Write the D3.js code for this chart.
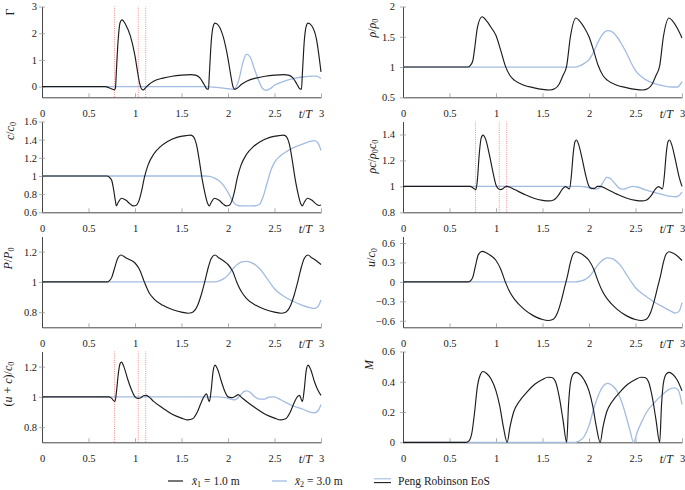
<!DOCTYPE html>
<html><head><meta charset="utf-8">
<script src="https://cdn.jsdelivr.net/npm/d3@7"></script>
<style>
body{margin:0;background:#fff}
svg{display:block}
svg text{font-family:"Liberation Serif","DejaVu Serif",serif !important;fill:#1a1a1a}
</style>
</head><body>
<svg id="c" width="685" height="490"></svg>
<script>
// ---------- data (t/T, value) ----------
const tTicks=[0,0.5,1,1.5,2,2.5,3];
const redLines=[0.78,1.035,1.115];

const gammaBlack=[[0,0],[0.68,0],[0.72,-0.04],[0.76,-0.1],[0.78,-0.12],[0.79,-0.05],[0.8,0.6],[0.82,1.8],[0.84,2.4],[0.86,2.5],[0.9,2.32],[0.95,1.9],[1.0,1.15],[1.03,0.5],[1.05,0.12],[1.07,-0.08],[1.09,-0.12],[1.11,-0.06],[1.15,0.08],[1.2,0.2],[1.3,0.32],[1.4,0.39],[1.5,0.43],[1.6,0.45],[1.65,0.43],[1.7,0.32],[1.74,0.1],[1.77,-0.08],[1.79,-0.1],[1.8,0.5],[1.82,1.7],[1.84,2.25],[1.86,2.38],[1.9,2.28],[1.95,1.85],[2.0,1.05],[2.03,0.42],[2.05,0.05],[2.07,-0.1],[2.09,-0.08],[2.15,0.1],[2.2,0.2],[2.3,0.32],[2.4,0.39],[2.5,0.43],[2.6,0.45],[2.65,0.43],[2.7,0.32],[2.74,0.1],[2.77,-0.08],[2.79,-0.1],[2.8,0.5],[2.82,1.7],[2.84,2.25],[2.86,2.38],[2.9,2.28],[2.95,1.8],[3.0,0.55]];
const gammaBlue=[[0,0],[1.7,0],[1.8,-0.01],[1.9,-0.04],[2.0,-0.08],[2.05,-0.1],[2.08,-0.05],[2.12,0.3],[2.16,0.9],[2.2,1.22],[2.24,1.1],[2.28,0.7],[2.33,0.22],[2.37,-0.06],[2.41,-0.14],[2.45,-0.08],[2.5,0.05],[2.6,0.2],[2.7,0.3],[2.8,0.36],[2.9,0.39],[2.95,0.39],[3.0,0.3]];

const rhoBlack=[[0,1],[0.7,1],[0.72,1.02],[0.75,1.1],[0.77,1.3],[0.8,1.65],[0.85,1.83],[0.9,1.76],[0.95,1.65],[1.0,1.52],[1.05,1.28],[1.1,1.02],[1.15,0.86],[1.2,0.78],[1.3,0.7],[1.4,0.66],[1.5,0.63],[1.58,0.62],[1.63,0.64],[1.68,0.72],[1.72,0.86],[1.76,1.02],[1.8,1.5],[1.86,1.81],[1.9,1.76],[1.95,1.65],[2.0,1.5],[2.05,1.27],[2.1,1.02],[2.15,0.86],[2.2,0.78],[2.3,0.7],[2.4,0.66],[2.5,0.63],[2.58,0.62],[2.63,0.64],[2.68,0.72],[2.72,0.86],[2.76,1.02],[2.8,1.5],[2.86,1.81],[2.9,1.76],[2.95,1.64],[3.0,1.48]];
const rhoBlue=[[0,1],[1.85,1],[1.9,1.02],[1.95,1.06],[2.0,1.12],[2.05,1.25],[2.1,1.42],[2.15,1.55],[2.2,1.6],[2.25,1.58],[2.3,1.5],[2.35,1.38],[2.4,1.24],[2.45,1.08],[2.5,0.94],[2.6,0.8],[2.7,0.73],[2.8,0.69],[2.9,0.67],[2.95,0.67],[3.0,0.76]];

const cBlack=[[0,1],[0.7,1],[0.72,0.99],[0.75,0.95],[0.77,0.85],[0.79,0.72],[0.8,0.67],[0.82,0.71],[0.855,0.755],[0.9,0.735],[0.95,0.69],[0.98,0.67],[1.01,0.675],[1.04,0.72],[1.07,0.83],[1.1,0.98],[1.14,1.12],[1.2,1.24],[1.27,1.32],[1.35,1.38],[1.45,1.425],[1.55,1.445],[1.6,1.45],[1.63,1.43],[1.66,1.35],[1.69,1.18],[1.72,0.98],[1.75,0.82],[1.78,0.7],[1.8,0.67],[1.82,0.71],[1.855,0.755],[1.9,0.735],[1.95,0.69],[1.98,0.67],[2.01,0.675],[2.04,0.72],[2.07,0.83],[2.1,0.98],[2.14,1.12],[2.2,1.24],[2.27,1.32],[2.35,1.38],[2.45,1.425],[2.55,1.445],[2.6,1.45],[2.63,1.43],[2.66,1.35],[2.69,1.18],[2.72,0.98],[2.75,0.82],[2.78,0.7],[2.8,0.67],[2.82,0.71],[2.855,0.755],[2.9,0.735],[2.95,0.69],[2.98,0.675],[3.0,0.68]];
const cBlue=[[0,1],[1.75,1],[1.8,0.995],[1.85,0.98],[1.9,0.95],[1.95,0.9],[2.0,0.82],[2.04,0.74],[2.08,0.69],[2.12,0.672],[2.2,0.67],[2.3,0.672],[2.34,0.69],[2.38,0.78],[2.42,0.92],[2.46,1.06],[2.5,1.15],[2.55,1.21],[2.6,1.25],[2.7,1.31],[2.8,1.35],[2.88,1.38],[2.93,1.39],[2.97,1.36],[3.0,1.28]];

const rhocBlack=[[0,1],[0.72,1],[0.75,0.99],[0.77,0.98],[0.785,0.975],[0.8,1.05],[0.82,1.25],[0.84,1.37],[0.86,1.395],[0.89,1.36],[0.93,1.24],[0.97,1.1],[1.0,1.01],[1.02,0.985],[1.05,0.975],[1.08,0.985],[1.11,1.0],[1.13,0.998],[1.2,0.975],[1.3,0.94],[1.4,0.91],[1.5,0.892],[1.57,0.888],[1.62,0.895],[1.67,0.93],[1.71,0.975],[1.745,0.998],[1.77,0.99],[1.79,0.98],[1.81,1.08],[1.83,1.25],[1.85,1.345],[1.865,1.357],[1.89,1.32],[1.93,1.2],[1.97,1.07],[2.0,1.0],[2.03,0.985],[2.06,0.985],[2.09,1.0],[2.12,1.0],[2.2,0.975],[2.3,0.94],[2.4,0.91],[2.5,0.892],[2.57,0.888],[2.62,0.895],[2.67,0.93],[2.71,0.975],[2.745,0.998],[2.77,0.99],[2.79,0.98],[2.81,1.08],[2.83,1.25],[2.85,1.345],[2.865,1.357],[2.89,1.32],[2.93,1.2],[2.97,1.07],[3.0,1.0]];
const rhocBlue=[[0,1],[1.9,1],[1.97,0.995],[2.03,0.98],[2.08,0.978],[2.12,0.995],[2.15,1.03],[2.19,1.07],[2.23,1.06],[2.28,1.02],[2.33,0.985],[2.37,0.978],[2.42,0.99],[2.47,1.0],[2.52,0.995],[2.6,0.975],[2.7,0.953],[2.8,0.935],[2.88,0.922],[2.94,0.92],[2.97,0.93],[3.0,0.955]];

const pBlack=[[0,1],[0.7,1],[0.72,1.005],[0.75,1.03],[0.78,1.09],[0.81,1.15],[0.85,1.178],[0.9,1.16],[0.95,1.145],[1.0,1.125],[1.05,1.08],[1.1,1.0],[1.15,0.93],[1.2,0.89],[1.3,0.845],[1.4,0.818],[1.5,0.8],[1.57,0.793],[1.62,0.8],[1.67,0.84],[1.71,0.91],[1.75,1.0],[1.79,1.1],[1.82,1.155],[1.86,1.178],[1.9,1.16],[1.95,1.14],[2.0,1.115],[2.05,1.07],[2.1,0.99],[2.15,0.93],[2.2,0.89],[2.3,0.845],[2.4,0.818],[2.5,0.8],[2.57,0.793],[2.62,0.8],[2.67,0.84],[2.71,0.91],[2.75,1.0],[2.79,1.1],[2.82,1.155],[2.86,1.178],[2.9,1.16],[2.95,1.14],[3.0,1.115]];
const pBlue=[[0,1],[1.85,1],[1.9,1.005],[1.95,1.02],[2.0,1.045],[2.05,1.085],[2.1,1.115],[2.15,1.132],[2.2,1.135],[2.25,1.128],[2.3,1.11],[2.35,1.08],[2.4,1.04],[2.45,0.995],[2.5,0.955],[2.6,0.905],[2.7,0.872],[2.8,0.845],[2.88,0.83],[2.93,0.825],[2.97,0.84],[3.0,0.88]];

const uBlack=[[0,0],[0.7,0],[0.72,0.01],[0.75,0.07],[0.78,0.25],[0.81,0.42],[0.85,0.47],[0.9,0.445],[0.95,0.4],[1.0,0.33],[1.05,0.2],[1.1,0.0],[1.15,-0.16],[1.2,-0.27],[1.3,-0.42],[1.4,-0.52],[1.5,-0.58],[1.56,-0.595],[1.61,-0.58],[1.66,-0.48],[1.7,-0.3],[1.74,-0.07],[1.77,0.1],[1.8,0.3],[1.83,0.43],[1.86,0.465],[1.9,0.445],[1.95,0.4],[2.0,0.33],[2.05,0.2],[2.1,0.0],[2.15,-0.16],[2.2,-0.27],[2.3,-0.42],[2.4,-0.52],[2.5,-0.58],[2.56,-0.595],[2.61,-0.58],[2.66,-0.48],[2.7,-0.3],[2.74,-0.07],[2.77,0.1],[2.8,0.3],[2.83,0.43],[2.86,0.465],[2.9,0.445],[2.95,0.4],[3.0,0.33]];
const uBlue=[[0,0],[1.85,0],[1.9,0.01],[1.95,0.03],[2.0,0.08],[2.05,0.17],[2.1,0.27],[2.15,0.34],[2.2,0.37],[2.25,0.36],[2.3,0.31],[2.35,0.23],[2.4,0.12],[2.45,0.01],[2.5,-0.09],[2.6,-0.21],[2.7,-0.31],[2.8,-0.39],[2.88,-0.45],[2.93,-0.48],[2.97,-0.45],[3.0,-0.32]];

const upcBlack=[[0,1],[0.72,1],[0.75,0.99],[0.77,0.975],[0.785,0.97],[0.8,1.03],[0.82,1.15],[0.84,1.22],[0.855,1.23],[0.88,1.2],[0.92,1.12],[0.96,1.05],[1.0,1.0],[1.03,0.99],[1.06,0.993],[1.09,1.008],[1.12,1.01],[1.15,1.0],[1.2,0.97],[1.3,0.925],[1.4,0.885],[1.5,0.86],[1.57,0.848],[1.62,0.855],[1.67,0.9],[1.71,0.96],[1.745,1.005],[1.77,1.02],[1.79,0.98],[1.8,0.97],[1.82,1.05],[1.84,1.17],[1.86,1.21],[1.89,1.18],[1.93,1.1],[1.97,1.03],[2.0,1.0],[2.04,0.995],[2.08,1.005],[2.11,1.015],[2.14,1.0],[2.2,0.97],[2.3,0.925],[2.4,0.885],[2.5,0.86],[2.57,0.848],[2.62,0.855],[2.67,0.9],[2.71,0.96],[2.745,1.0],[2.77,1.01],[2.79,0.98],[2.8,0.97],[2.82,1.05],[2.84,1.17],[2.86,1.21],[2.89,1.18],[2.93,1.1],[2.97,1.04],[3.0,1.01]];
const upcBlue=[[0,1],[1.9,1],[1.97,0.995],[2.03,0.985],[2.07,0.98],[2.1,0.99],[2.13,1.01],[2.17,1.035],[2.2,1.04],[2.24,1.03],[2.29,1.0],[2.34,0.985],[2.39,0.985],[2.44,0.998],[2.49,1.0],[2.54,0.99],[2.6,0.97],[2.7,0.94],[2.8,0.92],[2.88,0.9],[2.93,0.895],[2.97,0.91],[3.0,0.95]];

const mBlack=[[0,0],[0.68,0],[0.71,0.01],[0.74,0.06],[0.77,0.2],[0.8,0.37],[0.83,0.445],[0.86,0.468],[0.9,0.455],[0.95,0.415],[1.0,0.34],[1.04,0.24],[1.08,0.1],[1.12,0.0],[1.15,0.1],[1.19,0.2],[1.25,0.27],[1.33,0.33],[1.42,0.385],[1.5,0.415],[1.56,0.43],[1.6,0.428],[1.64,0.4],[1.68,0.3],[1.72,0.15],[1.76,0.0],[1.78,0.25],[1.8,0.39],[1.83,0.45],[1.86,0.462],[1.9,0.45],[1.95,0.41],[2.0,0.34],[2.04,0.24],[2.08,0.1],[2.12,0.0],[2.15,0.1],[2.19,0.2],[2.25,0.27],[2.33,0.33],[2.42,0.385],[2.5,0.415],[2.56,0.43],[2.6,0.428],[2.64,0.4],[2.68,0.3],[2.72,0.15],[2.76,0.0],[2.78,0.25],[2.8,0.39],[2.83,0.45],[2.86,0.462],[2.9,0.45],[2.95,0.41],[3.0,0.34]];
const mBlue=[[0,0],[1.85,0],[1.9,0.01],[1.95,0.04],[2.0,0.11],[2.05,0.22],[2.1,0.31],[2.15,0.37],[2.2,0.39],[2.25,0.375],[2.3,0.34],[2.35,0.27],[2.4,0.17],[2.44,0.08],[2.48,0.0],[2.52,0.07],[2.57,0.14],[2.62,0.2],[2.7,0.26],[2.78,0.31],[2.86,0.35],[2.92,0.36],[2.96,0.345],[3.0,0.25]];

const yTicksGamma=[0,1,2,3], yTicksRho=[0.5,1,1.5,2], yTicksC=[0.6,0.8,1,1.2,1.4,1.6], yTicksRhoc=[0.8,1,1.2,1.4];
const yTicksP=[0.8,1,1.2], yTicksU=[-0.6,-0.3,0,0.3,0.6], yTicksUpc=[0.8,1,1.2], yTicksM=[0,0.2,0.4,0.6];
const legendLabels=["= 1.0 m","= 3.0 m","Peng Robinson EoS"];

// ---------- layout ----------
const FONT='"Liberation Serif","DejaVu Serif",serif';
const svg=d3.select("#c");
const COLS=[{x0:42,x1:321,tickPad:2},{x0:403,x1:682,tickPad:5}];
const rowTop=r=>6.5+115*r, rowBot=r=>97.3+115*r;
const BLACK="#1c1c1c", BLUE="#a2bce1", RED="#f58a8a";

const panels=[
 {col:0,row:0,dom:[-0.4,3],ticks:yTicksGamma,black:gammaBlack,blue:gammaBlue,red:true,lab:[["Γ",""]],ly:5.5,lx:9.5},
 {col:1,row:0,dom:[0.5,2],ticks:yTicksRho,black:rhoBlack,blue:rhoBlue,red:false,lab:[["ρ","i"],["/",""],["ρ","i"],["0","s"]],ly:21.5,lx:372},
 {col:0,row:1,dom:[0.6,1.6],ticks:yTicksC,black:cBlack,blue:cBlue,red:false,lab:[["c","i"],["/",""],["c","i"],["0","s"]],ly:9.5,lx:10},
 {col:1,row:1,dom:[0.8,1.5],ticks:yTicksRhoc,black:rhocBlack,blue:rhocBlue,red:true,lab:[["ρc","i"],["/",""],["ρ","i"],["0","s"],["c","i"],["0","s"]],ly:35,lx:372},
 {col:0,row:2,dom:[0.7,1.3],ticks:yTicksP,black:pBlack,blue:pBlue,red:false,lab:[["P","i"],["/",""],["P","i"],["0","s"]],ly:22,lx:8},
 {col:1,row:2,dom:[-0.7,0.7],ticks:yTicksU,black:uBlack,blue:uBlue,red:false,lab:[["u","i"],["/",""],["c","i"],["0","s"]],ly:21,lx:371},
 {col:0,row:3,dom:[0.7,1.3],ticks:yTicksUpc,black:upcBlack,blue:upcBlue,red:true,lab:[["(",""],["u","i"],[" + ",""],["c","i"],[")/",""],["c","i"],["0","s"]],ly:32.5,lx:8},
 {col:1,row:3,dom:[0,0.6],ticks:yTicksM,black:mBlack,blue:mBlue,red:false,lab:[["M","i"]],ly:13.5,lx:369}
];

function rich(sel,parts,size){
  let shifted=0;
  parts.forEach(([s,st])=>{
    const ts=sel.append("tspan").text(s);
    if(st.includes("i")) ts.attr("font-style","italic");
    if(st.includes("s")){ ts.attr("font-size",size*0.7).attr("dy",shifted?0:2.2); shifted=1; }
    else { if(shifted){ts.attr("dy",-2.2);} shifted=0; }
  });
}
const fmt=v=>{ if(v===0) return "0"; const s=d3.format("")(v); return s.replace("-","\u2212"); };

panels.forEach(p=>{
  const C=COLS[p.col];
  const x=d3.scaleLinear().domain([0,3]).range([C.x0,C.x1]);
  const y=d3.scaleLinear().domain(p.dom).range([rowBot(p.row),rowTop(p.row)]);
  const g=svg.append("g");

  if(p.red){
    g.selectAll("line.red").data(redLines).join("line")
      .attr("x1",d=>x(d)).attr("x2",d=>x(d))
      .attr("y1",y.range()[0]).attr("y2",y.range()[1])
      .attr("stroke",RED).attr("stroke-width",1).attr("stroke-dasharray","1,1.2");
  }

  const ax=g.append("g").attr("transform",`translate(0,${rowBot(p.row)})`)
    .call(d3.axisBottom(x).tickValues(tTicks).tickFormat(fmt).tickSizeInner(-4).tickSizeOuter(0).tickPadding(12));
  ax.attr("font-family",null);
  ax.select(".domain").attr("stroke","#333").attr("stroke-width",0.9);
  ax.selectAll(".tick line").attr("stroke","#999").attr("stroke-width",0.8);
  ax.selectAll(".tick text").attr("font-size",10.5).style("font-family",FONT);

  const ay=g.append("g").attr("transform",`translate(${C.x0},0)`)
    .call(d3.axisLeft(y).tickValues(p.ticks).tickFormat(fmt).tickSizeInner(3).tickSizeOuter(0).tickPadding(C.tickPad));
  ay.attr("font-family",null);
  ay.select(".domain").attr("stroke","#333").attr("stroke-width",0.9);
  ay.selectAll(".tick line").attr("stroke","#999").attr("stroke-width",0.8).attr("x2",3).attr("x1",-3);
  ay.selectAll(".tick text").attr("font-size",10.5).style("font-family",FONT);

  const line=d3.line().x(d=>x(d[0])).y(d=>y(d[1])).curve(d3.curveMonotoneX);
  g.append("path").datum(p.blue).attr("d",line).attr("fill","none").attr("stroke",BLUE).attr("stroke-width",1.3);
  g.append("path").datum(p.black).attr("d",line).attr("fill","none").attr("stroke",BLACK).attr("stroke-width",1.15);

  const xl=g.append("text").attr("x",C.x1-9).attr("y",rowBot(p.row)+21).attr("text-anchor","end").attr("font-size",12);
  rich(xl,[["t","i"],["/",""],["T","i"]],12);

  const cy=rowTop(p.row)+p.ly;
  const yl=g.append("text").attr("transform",`translate(${p.lx},${cy}) rotate(-90)`)
    .attr("text-anchor","middle").attr("dy","0.35em").attr("font-size",12);
  rich(yl,p.lab,12);
});

// ---------- legend ----------
const LY=481;
const lg=svg.append("g");
lg.append("line").attr("x1",168).attr("x2",183).attr("y1",LY).attr("y2",LY).attr("stroke",BLACK).attr("stroke-width",1.2);
let t1=lg.append("text").attr("x",192).attr("y",LY+4).attr("font-size",11.5);
rich(t1,[["x\u0304","i"],["1","s"],[" "+legendLabels[0],""]],11.5);
lg.append("line").attr("x1",272).attr("x2",287).attr("y1",LY).attr("y2",LY).attr("stroke",BLUE).attr("stroke-width",1.3);
let t2=lg.append("text").attr("x",295).attr("y",LY+4).attr("font-size",11.5);
rich(t2,[["x\u0304","i"],["2","s"],[" "+legendLabels[1],""]],11.5);
lg.append("line").attr("x1",374).attr("x2",391).attr("y1",LY-2.2).attr("y2",LY-2.2).attr("stroke",BLUE).attr("stroke-width",1.1);
lg.append("line").attr("x1",374).attr("x2",391).attr("y1",LY+1.6).attr("y2",LY+1.6).attr("stroke",BLACK).attr("stroke-width",1.1);
lg.append("text").attr("x",398).attr("y",LY+4).attr("font-size",11.5).text(legendLabels[2]);
</script>
</body></html>
